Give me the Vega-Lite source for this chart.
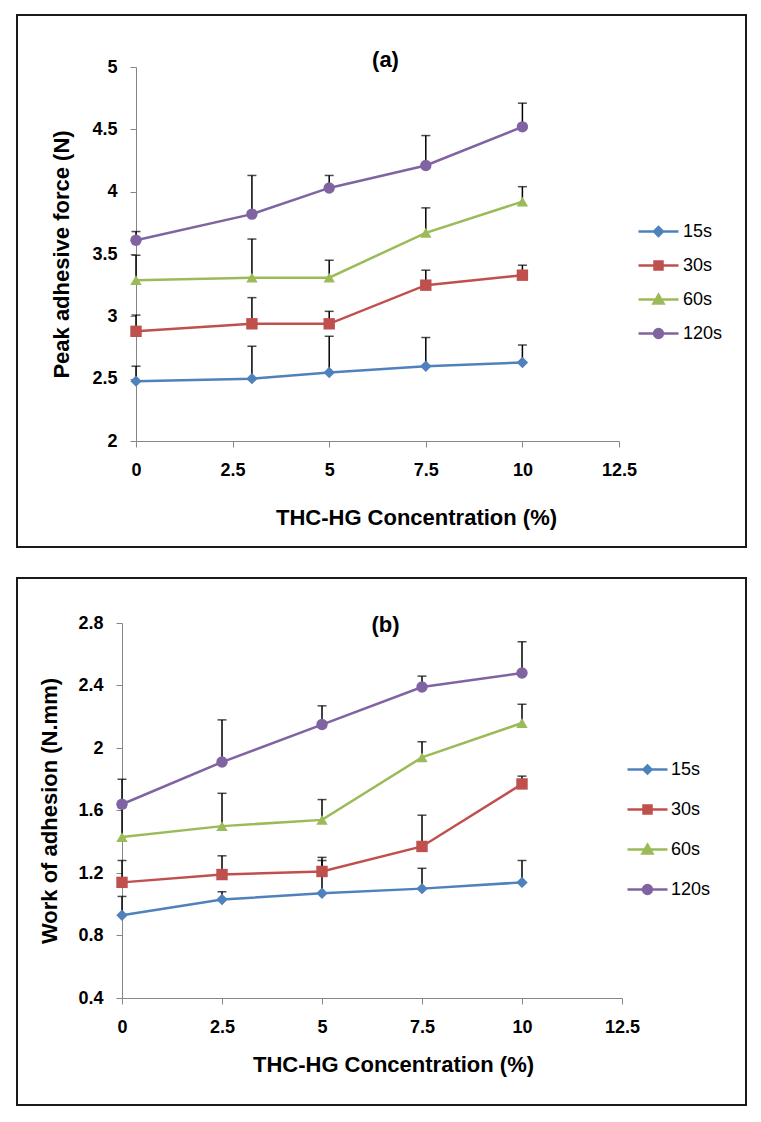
{
  "$schema": "https://vega.github.io/schema/vega-lite/v6.json",
  "padding": {"left": 16, "top": 14, "right": 0, "bottom": 0},
  "background": "white",
  "spacing": 29,
  "config": {
    "font": "Liberation Sans",
    "view": {"stroke": "#1a1a1a", "strokeWidth": 2},
    "axis": {
      "grid": false,
      "domainColor": "#868686",
      "tickColor": "#868686",
      "tickSize": 6,
      "labelFontSize": 18,
      "labelFontWeight": "bold",
      "labelColor": "#000",
      "labelFlush": false,
      "labelOverlap": false,
      "titleFontSize": 22,
      "titleFontWeight": "bold",
      "titleColor": "#000",
      "titleBaseline": "middle",
      "format": ".1~f"
    },
    "title": {"font": "Liberation Sans", "fontSize": 22, "fontWeight": "bold", "color": "#000"}
  },
  "datasets": {
    "a": [
      {"x": 0, "y": 2.48, "up": 2.60, "s": "15s"},
      {"x": 3, "y": 2.50, "up": 2.76, "s": "15s"},
      {"x": 5, "y": 2.55, "up": 2.84, "s": "15s"},
      {"x": 7.5, "y": 2.60, "up": 2.83, "s": "15s"},
      {"x": 10, "y": 2.63, "up": 2.77, "s": "15s"},
      {"x": 0, "y": 2.88, "up": 3.01, "s": "30s"},
      {"x": 3, "y": 2.94, "up": 3.15, "s": "30s"},
      {"x": 5, "y": 2.94, "up": 3.04, "s": "30s"},
      {"x": 7.5, "y": 3.25, "up": 3.37, "s": "30s"},
      {"x": 10, "y": 3.33, "up": 3.41, "s": "30s"},
      {"x": 0, "y": 3.29, "up": 3.49, "s": "60s"},
      {"x": 3, "y": 3.31, "up": 3.62, "s": "60s"},
      {"x": 5, "y": 3.31, "up": 3.45, "s": "60s"},
      {"x": 7.5, "y": 3.67, "up": 3.87, "s": "60s"},
      {"x": 10, "y": 3.92, "up": 4.04, "s": "60s"},
      {"x": 0, "y": 3.61, "up": 3.68, "s": "120s"},
      {"x": 3, "y": 3.82, "up": 4.13, "s": "120s"},
      {"x": 5, "y": 4.03, "up": 4.13, "s": "120s"},
      {"x": 7.5, "y": 4.21, "up": 4.45, "s": "120s"},
      {"x": 10, "y": 4.52, "up": 4.71, "s": "120s"}
    ],
    "b": [
      {"x": 0, "y": 0.93, "up": 1.05, "s": "15s"},
      {"x": 2.5, "y": 1.03, "up": 1.08, "s": "15s"},
      {"x": 5, "y": 1.07, "up": 1.28, "s": "15s"},
      {"x": 7.5, "y": 1.10, "up": 1.23, "s": "15s"},
      {"x": 10, "y": 1.14, "up": 1.28, "s": "15s"},
      {"x": 0, "y": 1.14, "up": 1.28, "s": "30s"},
      {"x": 2.5, "y": 1.19, "up": 1.31, "s": "30s"},
      {"x": 5, "y": 1.21, "up": 1.30, "s": "30s"},
      {"x": 7.5, "y": 1.37, "up": 1.57, "s": "30s"},
      {"x": 10, "y": 1.77, "up": 1.82, "s": "30s"},
      {"x": 0, "y": 1.43, "up": 1.62, "s": "60s"},
      {"x": 2.5, "y": 1.50, "up": 1.71, "s": "60s"},
      {"x": 5, "y": 1.54, "up": 1.67, "s": "60s"},
      {"x": 7.5, "y": 1.94, "up": 2.04, "s": "60s"},
      {"x": 10, "y": 2.16, "up": 2.28, "s": "60s"},
      {"x": 0, "y": 1.64, "up": 1.80, "s": "120s"},
      {"x": 2.5, "y": 1.91, "up": 2.18, "s": "120s"},
      {"x": 5, "y": 2.15, "up": 2.27, "s": "120s"},
      {"x": 7.5, "y": 2.39, "up": 2.46, "s": "120s"},
      {"x": 10, "y": 2.48, "up": 2.68, "s": "120s"}
    ]
  },
  "resolve": {
    "scale": {"color": "independent"},
    "legend": {"color": "independent"}
  },
  "vconcat": [
    {
      "width": 729,
      "height": 532,
      "data": {"name": "a"},
      "title": {"text": "(a)", "anchor": "middle", "frame": "group", "offset": 0, "baseline": "middle", "dy": 67, "dx": 4},
      "encoding": {
        "x": {
          "field": "x", "type": "quantitative",
          "scale": {"domain": [0, 12.5], "range": [119, 602], "nice": false, "zero": false},
          "axis": {"values": [0, 2.5, 5, 7.5, 10, 12.5], "offset": -106, "labelPadding": 14,
                   "title": "THC-HG Concentration (%)", "titleX": 399, "titleY": 76}
        },
        "y": {
          "field": "y", "type": "quantitative",
          "scale": {"domain": [2, 5], "range": [426, 52], "nice": false, "zero": false},
          "axis": {"values": [2, 2.5, 3, 3.5, 4, 4.5, 5], "offset": -119, "labelPadding": 13,
                   "title": "Peak adhesive force (N)", "titleX": -75}
        },
        "color": {
          "field": "s", "type": "nominal",
          "scale": {"domain": ["15s", "30s", "60s", "120s"], "range": ["#4F81BD", "#C0504D", "#9BBB59", "#8064A2"]},
          "legend": {
            "title": null, "orient": "none", "legendX": 620, "legendY": 195,
            "symbolSize": 1600, "symbolStrokeWidth": 2.5, "labelFontSize": 18, "labelColor": "#000",
            "labelOffset": 3, "rowPadding": 3,
            "encode": {"symbols": {"update": {
              "shape": {"signal": "datum.value === '15s' ? 'M-1,0H1M-0.22,0L0,-0.22L0.22,0L0,0.22Z' : datum.value === '30s' ? 'M-1,0H1M-0.2,-0.2H0.2V0.2H-0.2Z' : datum.value === '60s' ? 'M-1,0H1M0,-0.24L0.25,0.2H-0.25Z' : 'M-1,0H1M-0.22,0A0.22,0.22,0,1,0,0.22,0A0.22,0.22,0,1,0,-0.22,0Z'"},
              "stroke": {"signal": "datum.value === '15s' ? '#4F81BD' : datum.value === '30s' ? '#C0504D' : datum.value === '60s' ? '#9BBB59' : '#8064A2'"},
              "fill": {"signal": "datum.value === '15s' ? '#4F81BD' : datum.value === '30s' ? '#C0504D' : datum.value === '60s' ? '#9BBB59' : '#8064A2'"},
              "strokeWidth": {"value": 2.5},
              "opacity": {"value": 1}
            }}}
          }
        }
      },
      "layer": [
        {"mark": {"type": "rule", "strokeWidth": 1.5}, "encoding": {"y2": {"field": "up"}, "color": {"value": "#000"}}},
        {"mark": {"type": "tick", "orient": "horizontal", "size": 9, "thickness": 1.5}, "encoding": {"y": {"field": "up", "type": "quantitative"}, "color": {"value": "#000"}}},
        {"mark": {"type": "line", "strokeWidth": 2.5}},
        {"mark": {"type": "point", "filled": true, "opacity": 1, "size": 130},
         "encoding": {"shape": {"condition": [
           {"test": "datum.s === '15s'", "value": "diamond"},
           {"test": "datum.s === '30s'", "value": "square"},
           {"test": "datum.s === '60s'", "value": "triangle-up"}], "value": "circle"}}}
      ]
    },
    {
      "width": 729,
      "height": 527,
      "data": {"name": "b"},
      "title": {"text": "(b)", "anchor": "middle", "frame": "group", "offset": 0, "baseline": "middle", "dy": 69, "dx": 4},
      "encoding": {
        "x": {
          "field": "x", "type": "quantitative",
          "scale": {"domain": [0, 12.5], "range": [105, 605], "nice": false, "zero": false},
          "axis": {"values": [0, 2.5, 5, 7.5, 10, 12.5], "offset": -107, "labelPadding": 14,
                   "title": "THC-HG Concentration (%)", "titleX": 376, "titleY": 66}
        },
        "y": {
          "field": "y", "type": "quantitative",
          "scale": {"domain": [0.4, 2.8], "range": [420, 45], "nice": false, "zero": false},
          "axis": {"values": [0.4, 0.8, 1.2, 1.6, 2, 2.4, 2.8], "offset": -105, "labelPadding": 13,
                   "title": "Work of adhesion (N.mm)", "titleX": -73}
        },
        "color": {
          "field": "s", "type": "nominal",
          "scale": {"domain": ["15s", "30s", "60s", "120s"], "range": ["#4F81BD", "#C0504D", "#9BBB59", "#8064A2"]},
          "legend": {
            "title": null, "orient": "none", "legendX": 609, "legendY": 170,
            "symbolSize": 1600, "symbolStrokeWidth": 2.5, "labelFontSize": 18, "labelColor": "#000",
            "labelOffset": 2, "rowPadding": 9,
            "encode": {"symbols": {"update": {
              "shape": {"signal": "datum.value === '15s' ? 'M-1,0H1M-0.2,0L0,-0.2L0.2,0L0,0.2Z' : datum.value === '30s' ? 'M-1,0H1M-0.2,-0.2H0.2V0.2H-0.2Z' : datum.value === '60s' ? 'M-1,0H1M0,-0.24L0.25,0.2H-0.25Z' : 'M-1,0H1M-0.22,0A0.22,0.22,0,1,0,0.22,0A0.22,0.22,0,1,0,-0.22,0Z'"},
              "stroke": {"signal": "datum.value === '15s' ? '#4F81BD' : datum.value === '30s' ? '#C0504D' : datum.value === '60s' ? '#9BBB59' : '#8064A2'"},
              "fill": {"signal": "datum.value === '15s' ? '#4F81BD' : datum.value === '30s' ? '#C0504D' : datum.value === '60s' ? '#9BBB59' : '#8064A2'"},
              "strokeWidth": {"value": 2.5},
              "opacity": {"value": 1}
            }}}
          }
        }
      },
      "layer": [
        {"mark": {"type": "rule", "strokeWidth": 1.5}, "encoding": {"y2": {"field": "up"}, "color": {"value": "#000"}}},
        {"mark": {"type": "tick", "orient": "horizontal", "size": 9, "thickness": 1.5}, "encoding": {"y": {"field": "up", "type": "quantitative"}, "color": {"value": "#000"}}},
        {"mark": {"type": "line", "strokeWidth": 2.5}},
        {"mark": {"type": "point", "filled": true, "opacity": 1, "size": 130},
         "encoding": {"shape": {"condition": [
           {"test": "datum.s === '15s'", "value": "diamond"},
           {"test": "datum.s === '30s'", "value": "square"},
           {"test": "datum.s === '60s'", "value": "triangle-up"}], "value": "circle"}}}
      ]
    }
  ]
}
